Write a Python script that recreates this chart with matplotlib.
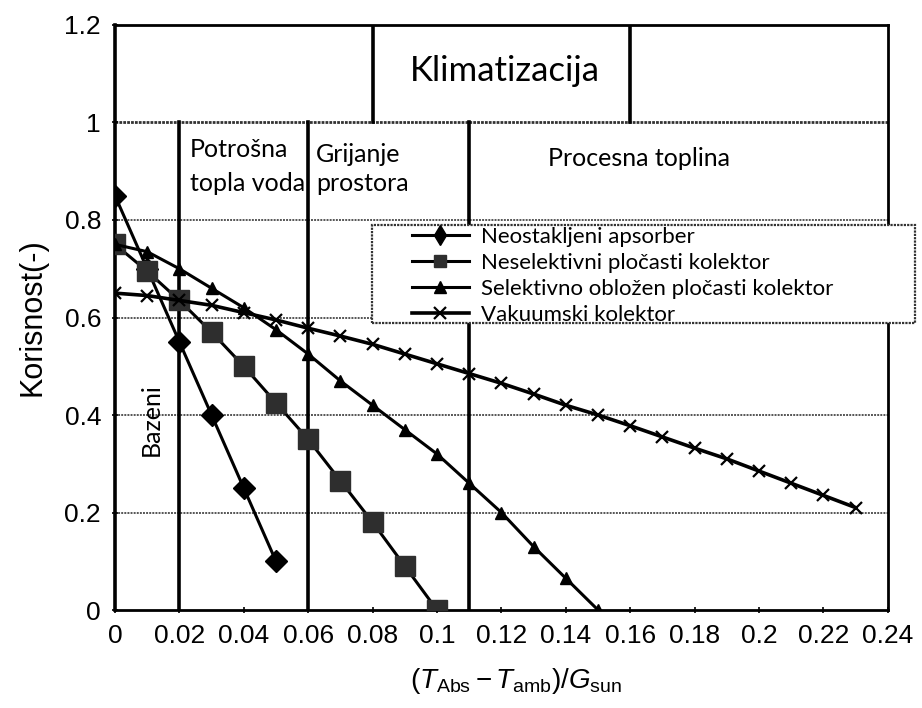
# Korisnost solarnih kolektora u ovisnosti o (T_Abs - T_amb)/G_sun

import numpy as np
import matplotlib as mpl
mpl.use('Agg')
import matplotlib.pyplot as plt
from matplotlib.patches import Rectangle

plt.rcParams['font.family'] = ['Liberation Sans', 'DejaVu Sans']
plt.rcParams['mathtext.fontset'] = 'custom'
plt.rcParams['mathtext.rm'] = 'Liberation Sans'
plt.rcParams['mathtext.it'] = 'Liberation Sans:italic'

TEXT_FONT = ['Lato', 'DejaVu Sans']

# data
x_neostakljeni = [0.0, 0.01, 0.02, 0.03, 0.04, 0.05]
y_neostakljeni = [0.85, 0.70, 0.55, 0.40, 0.25, 0.10]

x_neselektivni = [0.0, 0.01, 0.02, 0.03, 0.04, 0.05, 0.06, 0.07, 0.08, 0.09, 0.10]
y_neselektivni = [0.75, 0.695, 0.635, 0.57, 0.50, 0.425, 0.35, 0.265, 0.18, 0.09, 0.0]

x_selektivni = [0.0, 0.01, 0.02, 0.03, 0.04, 0.05, 0.06, 0.07, 0.08,
                0.09, 0.10, 0.11, 0.12, 0.13, 0.14, 0.15]
y_selektivni = [0.75, 0.735, 0.70, 0.66, 0.62, 0.575, 0.525, 0.47, 0.42,
                0.37, 0.32, 0.26, 0.20, 0.13, 0.065, 0.0]

x_vakuumski = [0.0, 0.01, 0.02, 0.03, 0.04, 0.05, 0.06, 0.07, 0.08, 0.09, 0.10, 0.11,
               0.12, 0.13, 0.14, 0.15, 0.16, 0.17, 0.18, 0.19, 0.20, 0.21, 0.22, 0.23]
y_vakuumski = [0.65, 0.645, 0.635, 0.625, 0.61, 0.595, 0.578, 0.562, 0.545, 0.525, 0.505, 0.485,
               0.465, 0.443, 0.42, 0.40, 0.378, 0.355, 0.332, 0.31, 0.285, 0.26, 0.235, 0.21]

labels = ['Neostakljeni apsorber', 'Neselektivni pločasti kolektor',
          'Selektivno obložen pločasti kolektor', 'Vakuumski kolektor']

x_ticks = [0, 0.02, 0.04, 0.06, 0.08, 0.1, 0.12, 0.14, 0.16, 0.18, 0.2, 0.22, 0.24]
x_tick_labels = ['0', '0.02', '0.04', '0.06', '0.08', '0.1', '0.12', '0.14',
                 '0.16', '0.18', '0.2', '0.22', '0.24']
y_ticks = [0, 0.2, 0.4, 0.6, 0.8, 1.0, 1.2]
y_tick_labels = ['0', '0.2', '0.4', '0.6', '0.8', '1', '1.2']

# field boundaries
lower_dividers = [0.02, 0.06, 0.11]
upper_dividers = [0.08, 0.16]

W, H = 922, 708
fig = plt.figure(figsize=(W / 100, H / 100), dpi=100)
ax = fig.add_axes([0.1247, 0.1384, 0.8383, 0.8263])

ax.set_xlim(0, 0.24)
ax.set_ylim(0, 1.2)

# grid and area dividers
for yv in [0.2, 0.4, 0.6, 0.8]:
    ax.axhline(yv, color='#555555', lw=1.4, ls=(0, (1, 0.6)), zorder=1)
ax.axhline(1.0, color='#333333', lw=2.0, ls=(0, (1, 0.4)), zorder=1)
for xv in lower_dividers:
    ax.plot([xv, xv], [0, 1.0], color='black', lw=2.6, zorder=2)
for xv in upper_dividers:
    ax.plot([xv, xv], [1.0, 1.2], color='black', lw=2.6, zorder=2)

# series
ax.plot(x_neostakljeni, y_neostakljeni, color='black', lw=2.2, marker='D',
        ms=11, mfc='black', mec='black', label=labels[0], zorder=4)
ax.plot(x_neselektivni, y_neselektivni, color='black', lw=2.2, marker='s',
        ms=14, mfc='#2e2e2e', mec='#2e2e2e', label=labels[1], zorder=4)
ax.plot(x_selektivni, y_selektivni, color='black', lw=2.2, marker='^',
        ms=9, mfc='black', mec='black', label=labels[2], zorder=4)
ax.plot(x_vakuumski, y_vakuumski, color='black', lw=2.6, marker='x',
        ms=8, mew=1.6, mec='black', label=labels[3], zorder=4)

# area texts
ax.text(0.121, 1.105, 'Klimatizacija', family=TEXT_FONT, fontsize=25,
        ha='center', va='center')
ax.text(0.0232, 0.91, 'Potrošna\ntopla voda', family=TEXT_FONT, fontsize=18,
        ha='left', va='center', linespacing=1.55)
ax.text(0.0625, 0.905, 'Grijanje\nprostora', family=TEXT_FONT, fontsize=18,
        ha='left', va='center', linespacing=1.3)
ax.text(0.1345, 0.927, 'Procesna toplina', family=TEXT_FONT, fontsize=18,
        ha='left', va='center')
ax.text(0.0112, 0.39, 'Bazeni', family=TEXT_FONT, fontsize=18,
        ha='center', va='center', rotation=90)

# legend: frame drawn separately so it can reach past the right spine
frame = Rectangle((372 / W, 1 - 323 / H), 543 / W, 98 / H, transform=fig.transFigure,
                  facecolor='white', edgecolor='#333333', lw=1.6, ls=(0, (1, 0.5)),
                  clip_on=False, zorder=4.5)
ax.add_patch(frame)
leg = ax.legend(loc='center left', bbox_to_anchor=(412 / W, 1 - 276 / H),
                bbox_transform=fig.transFigure, prop={'family': TEXT_FONT, 'size': 16},
                frameon=False, handlelength=2.55, handletextpad=0.55, labelspacing=0.27,
                borderaxespad=0, borderpad=0, numpoints=1)
leg.set_zorder(5)
for h in leg.legend_handles:
    h.set_markersize(8)
leg.legend_handles[0].set_marker('d')
leg.legend_handles[0].set_markersize(10)

# axes
ax.set_xticks(x_ticks)
ax.set_xticklabels(x_tick_labels)
ax.set_yticks(y_ticks)
ax.set_yticklabels(y_tick_labels)
ax.tick_params(axis='both', labelsize=19, length=4, width=1.2, direction='inout', pad=8)
ax.spines['left'].set_linewidth(2.6)
for s in ['bottom', 'top', 'right']:
    ax.spines[s].set_linewidth(2.0)

ax.set_ylabel('Korisnost(-)', fontsize=22, labelpad=12)
ax.set_xlabel(r'$(T_{\rm Abs} - T_{\rm amb})/G_{\rm sun}$', fontsize=20)
ax.xaxis.set_label_coords(0.519, -0.095)

plt.savefig('out.png', dpi=100)
plt.close()
